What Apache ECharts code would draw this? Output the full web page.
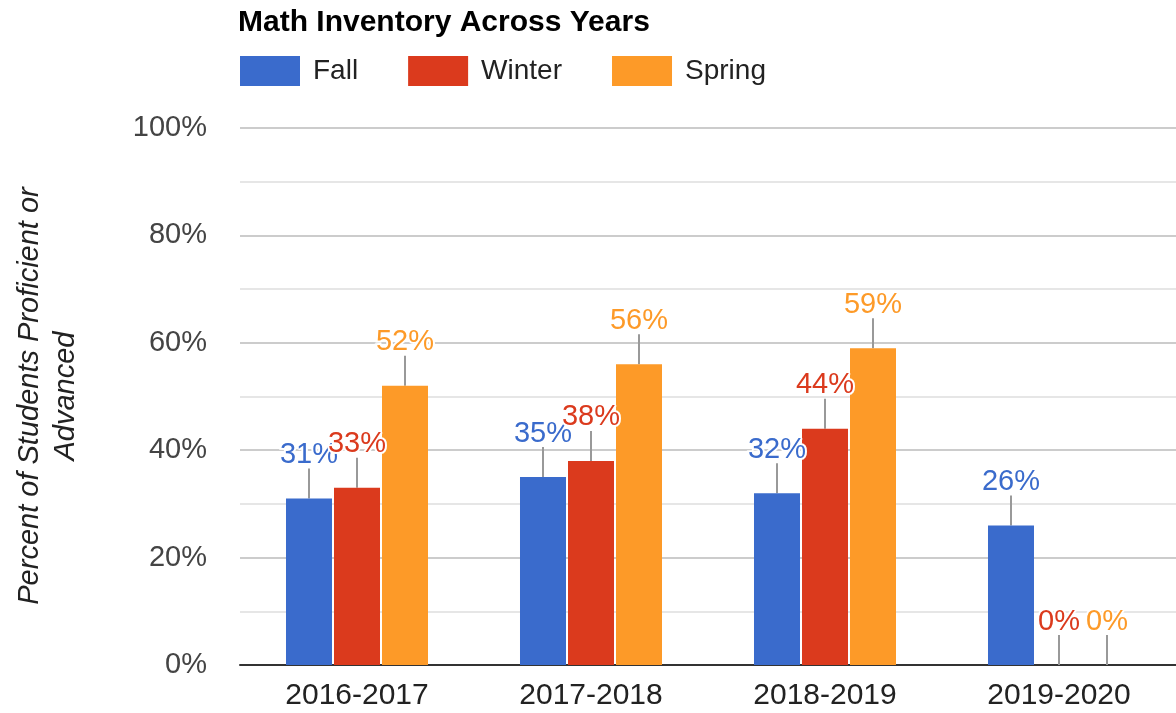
<!DOCTYPE html>
<html>
<head>
<meta charset="utf-8">
<script src="https://cdn.jsdelivr.net/npm/echarts@6/dist/echarts.min.js"></script>
<style>
html,body{margin:0;padding:0;background:#fff;}
#chart{width:1176px;height:713px;}
</style>
</head>
<body>
<div id="chart"></div>
<script>
const categories = ['2016-2017', '2017-2018', '2018-2019', '2019-2020'];
const fall = [31, 35, 32, 26];
const winter = [33, 38, 44, 0];
const spring = [52, 56, 59, 0];
const yTicks = [0, 20, 40, 60, 80, 100];

const FONT = '"Liberation Sans", Arial, sans-serif';
const colors = ['#3a6bcc', '#db3a1d', '#fd9a28'];
const names = ['Fall', 'Winter', 'Spring'];
const seriesData = [fall, winter, spring];
const BAR_W = 46, BAR_STEP = 48;

const chart = echarts.init(document.getElementById('chart'));

const barSeries = seriesData.map((d, i) => ({
  name: names[i],
  type: 'bar',
  data: d,
  barWidth: BAR_W,
  barGap: '4.35%',
  itemStyle: { color: colors[i] },
  z: 2,
  label: {
    show: true,
    position: 'top',
    distance: 29,
    formatter: '{c}%',
    fontFamily: FONT,
    fontSize: 29,
    color: colors[i],
    textBorderColor: '#fff',
    textBorderWidth: 4
  }
}));

const stemSeries = seriesData.map((d, i) => ({
  name: names[i] + '-stem',
  type: 'custom',
  data: d.map((v, k) => [k, v]),
  z: 1,
  silent: true,
  renderItem: function (params, api) {
    const p = api.coord([api.value(0), api.value(1)]);
    const x = p[0] + (i - 1) * BAR_STEP;
    return {
      type: 'line',
      shape: { x1: x, y1: p[1], x2: x, y2: p[1] - 30 },
      style: { stroke: '#999', lineWidth: 2 }
    };
  }
}));

chart.setOption({
  animation: false,
  backgroundColor: '#fff',
  title: {
    text: 'Math Inventory Across Years',
    left: 233,
    top: 3,
    textStyle: { fontFamily: FONT, fontSize: 30, fontWeight: 'bold', color: '#000' }
  },
  legend: {
    data: names,
    left: 235,
    top: 51,
    itemWidth: 60,
    itemHeight: 30,
    itemGap: 50,
    icon: 'rect',
    textStyle: { fontFamily: FONT, fontSize: 28, color: '#222', padding: [0, 0, 0, 8] }
  },
  grid: { left: 240, top: 128, height: 537, width: 948, containLabel: false },
  xAxis: {
    type: 'category',
    data: categories,
    axisLine: { show: true, lineStyle: { color: '#333', width: 2 } },
    axisTick: { show: false },
    axisLabel: { fontFamily: FONT, fontSize: 30, color: '#222', margin: 16 }
  },
  yAxis: {
    type: 'value',
    min: 0,
    max: 100,
    interval: 20,
    axisLine: { show: false },
    axisTick: { show: false },
    axisLabel: {
      fontFamily: FONT, fontSize: 29, color: '#444', margin: 33,
      formatter: v => (yTicks.indexOf(v) >= 0 ? v + '%' : '')
    },
    splitLine: { show: true, lineStyle: { color: '#cccccc', width: 2 } },
    minorTick: { show: false, splitNumber: 2 },
    minorSplitLine: { show: true, lineStyle: { color: '#e6e6e6', width: 2 } }
  },
  graphic: [{
    type: 'text',
    x: 48,
    y: 396,
    rotation: Math.PI / 2,
    style: {
      text: 'Percent of Students Proficient or\nAdvanced',
      font: 'italic 29px ' + FONT,
      fill: '#222',
      textAlign: 'center',
      textVerticalAlign: 'middle',
      lineHeight: 36
    }
  }],
  series: barSeries.concat(stemSeries)
});
</script>
</body>
</html>
